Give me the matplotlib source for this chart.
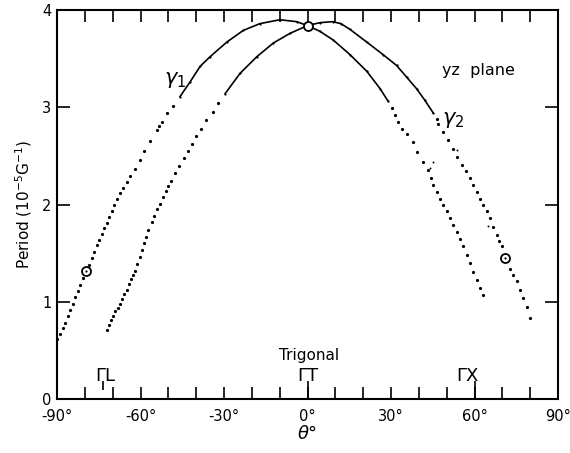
import matplotlib
matplotlib.use("Agg")
import matplotlib.pyplot as plt

plt.rcParams['font.family'] = ['DejaVu Sans']

# ---- data: period vs field angle in the yz plane ----
# gamma_1, dotted low-angle part (left)
g1_left_theta = [-90.0, -89.0, -88.0, -87.1, -86.2, -85.3, -84.4, -83.5, -82.6, -81.7,
                 -80.8, -78.6, -77.5, -76.6, -75.7, -74.8, -73.9, -73.0, -72.1, -71.2,
                 -70.3, -69.4, -68.5, -67.4, -66.2, -65.0, -63.8, -62.0, -60.3, -58.6,
                 -56.6, -54.2, -53.2, -52.2, -50.6, -48.2]
g1_left_period = [0.62, 0.67, 0.73, 0.78, 0.85, 0.92, 0.98, 1.05, 1.11, 1.17,
                  1.24, 1.38, 1.45, 1.51, 1.58, 1.64, 1.70, 1.76, 1.81, 1.87,
                  1.93, 2.00, 2.06, 2.12, 2.17, 2.23, 2.29, 2.37, 2.46, 2.55,
                  2.65, 2.77, 2.81, 2.85, 2.94, 3.01]
# gamma_1, continuous part
g1_mid_theta = [-45.8, -42.2, -38.6, -35.0, -29.0, -23.1, -17.1, -9.9, -3.9, 0.0,
                4.5, 9.3, 15.3, 21.3, 26.1, 29.0]
g1_mid_period = [3.11, 3.26, 3.42, 3.52, 3.67, 3.79, 3.86, 3.90, 3.88, 3.84,
                 3.78, 3.69, 3.54, 3.37, 3.19, 3.06]
# gamma_1, dotted high-angle part (right)
g1_right_theta = [30.3, 31.4, 32.6, 33.8, 35.6, 37.8, 39.2, 41.4, 43.4, 44.2,
                  45.2, 46.4, 47.6, 48.8, 50.0, 51.2, 52.4, 53.6, 54.8, 56.0,
                  57.2, 58.4, 59.6, 60.8, 62.0, 62.9]
g1_right_period = [2.99, 2.92, 2.85, 2.78, 2.73, 2.64, 2.54, 2.44, 2.35, 2.27,
                   2.20, 2.13, 2.06, 1.99, 1.93, 1.86, 1.79, 1.72, 1.65, 1.57,
                   1.48, 1.40, 1.31, 1.22, 1.14, 1.07]

# gamma_2, dotted low-angle part (left)
g2_left_theta = [-72.1, -71.3, -70.5, -69.8, -69.0, -68.2, -67.4, -66.6, -65.8, -65.0,
                 -64.2, -63.4, -62.6, -62.0, -61.2, -60.3, -59.5, -58.7, -57.9, -57.2,
                 -56.0, -55.0, -54.0, -53.0, -52.0, -51.0, -50.0, -49.0, -47.6, -46.0,
                 -44.4, -43.0, -41.6, -40.0, -38.4, -36.4, -33.8, -32.0]
g2_left_period = [0.71, 0.76, 0.81, 0.85, 0.90, 0.94, 0.98, 1.03, 1.08, 1.12,
                  1.18, 1.23, 1.28, 1.32, 1.39, 1.46, 1.53, 1.60, 1.67, 1.74,
                  1.82, 1.88, 1.95, 2.01, 2.08, 2.14, 2.19, 2.24, 2.32, 2.40,
                  2.48, 2.55, 2.62, 2.70, 2.78, 2.87, 2.95, 3.04]
# gamma_2, continuous part
g2_mid_theta = [-29.6, -24.2, -18.2, -12.3, -6.3, 0.0, 4.5, 9.0, 12.0, 15.3,
                21.3, 27.2, 32.0, 35.6, 39.2, 42.2, 45.2]
g2_mid_period = [3.14, 3.35, 3.52, 3.66, 3.76, 3.84, 3.87, 3.88, 3.86, 3.80,
                 3.67, 3.54, 3.43, 3.31, 3.19, 3.07, 2.94]
# gamma_2, dotted high-angle part (right)
g2_right_theta = [46.4, 47.0, 48.8, 50.6, 52.2, 53.8, 55.4, 56.9, 58.4, 59.6,
                  61.0, 62.0, 63.2, 64.4, 65.6, 66.8, 68.0, 68.8, 69.8, 72.8,
                  74.0, 75.2, 76.3, 77.5, 78.8, 80.0]
g2_right_period = [2.88, 2.83, 2.75, 2.66, 2.57, 2.49, 2.41, 2.34, 2.27, 2.20,
                   2.13, 2.06, 1.99, 1.93, 1.86, 1.77, 1.69, 1.62, 1.57, 1.34,
                   1.28, 1.21, 1.12, 1.04, 0.95, 0.83]

# isolated weak points
extra_theta = [45.2, 43.9, 53.7, 64.9]
extra_period = [2.44, 2.38, 2.56, 1.78]

# reference (circled) points
circle_theta = [-79.7, 0.0, 71.0]
circle_period = [1.32, 3.84, 1.45]
circle_centered = [True, False, True]

# symmetry directions marked along the axis
sym_theta = [-72.5, 0.0, 57.5]
sym_labels = ['ΓL', 'ΓT', 'ΓX']

x_ticks = [-90, -60, -30, 0, 30, 60, 90]
x_minor = list(range(-90, 91, 10))
y_ticks = [0, 1, 2, 3, 4]

# ---- figure ----
fig = plt.figure(figsize=(5.7, 4.53), dpi=100)
ax = fig.add_axes([0.1, 0.1192, 0.879, 0.8587])

dot_kw = dict(linestyle='none', marker='o', ms=2.3, color='black', mew=0)
line_kw = dict(color='black', lw=1.2, marker='o', ms=1.6, mew=0)

ax.plot(g1_left_theta, g1_left_period, **dot_kw)
ax.plot(g1_mid_theta, g1_mid_period, **line_kw)
ax.plot(g1_right_theta, g1_right_period, **dot_kw)
ax.plot(g2_left_theta, g2_left_period, **dot_kw)
ax.plot(g2_mid_theta, g2_mid_period, **line_kw)
ax.plot(g2_right_theta, g2_right_period, **dot_kw)
ax.plot(extra_theta, extra_period, linestyle='none', marker='o', ms=1.4,
        color='black', mew=0)

for t, p, c in zip(circle_theta, circle_period, circle_centered):
    ax.plot([t], [p], marker='o', ms=6.5, mfc='white', mec='black', mew=1.3,
            linestyle='none', zorder=5)
    if c:
        ax.plot([t], [p], marker='o', ms=1.6, color='black', mew=0, zorder=6)

# curve labels
ax.text(-47.5, 3.28, r'$\gamma_1$', fontsize=15, ha='center', va='center')
ax.text(52.3, 2.87, r'$\gamma_2$', fontsize=15, ha='center', va='center')
ax.text(61.5, 3.33, 'yz  plane', fontsize=11.5, ha='center', va='baseline')

# symmetry direction labels
ax.text(0.5, 0.40, 'Trigonal', fontsize=11, ha='center', va='baseline')
for t, s in zip(sym_theta, sym_labels):
    ax.text(t, 0.19, s, fontsize=13, ha='center', va='baseline')
ax.vlines([0.0, 60.0], 0, 0.18, color='black', lw=1.2)
ax.vlines([-73.5], 0.09, 0.18, color='black', lw=1.2)

# axes, ticks, labels
ax.set_xlim(-90, 90)
ax.set_ylim(0, 4)
ax.set_xticks(x_ticks)
ax.set_xticklabels([f'{v}°' for v in x_ticks])
ax.set_xticks(x_minor, minor=True)
ax.set_yticks(y_ticks)
ax.set_yticklabels([str(v) for v in y_ticks])

ax.tick_params(axis='x', which='both', direction='in', length=8.6, width=1.2,
               top=True, bottom=True, labelsize=10.5, pad=7)
ax.tick_params(axis='y', which='both', direction='in', length=9.4, width=1.2,
               left=True, right=True, labelsize=10.5, pad=4)

for sp in ax.spines.values():
    sp.set_linewidth(1.5)
    sp.set_color('black')

ax.set_ylabel('Period (10$^{-5}$G$^{-1}$)', fontsize=11, labelpad=6)
ax.set_xlabel('θ°', fontsize=13, fontstyle='italic', labelpad=1)

fig.savefig('out.png', dpi=100, facecolor='white')
